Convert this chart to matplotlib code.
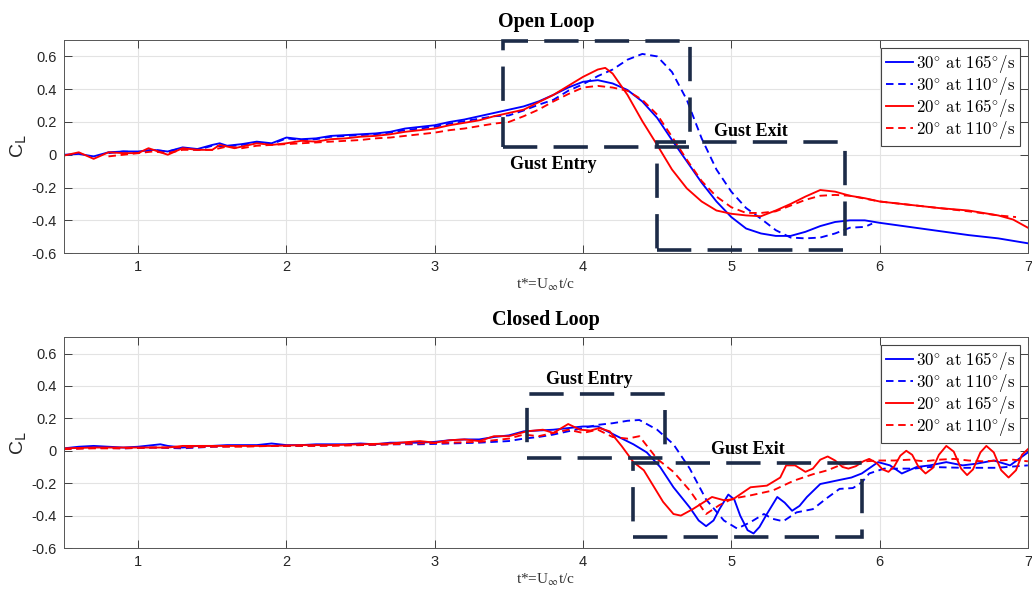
import numpy as np
import matplotlib
matplotlib.use('Agg')
import matplotlib.pyplot as plt
from matplotlib.patches import Rectangle
from matplotlib.font_manager import FontProperties

# lift coefficient vs convective time, open loop
ol_t_b165 = [0.5, 0.6, 0.7, 0.8, 0.9, 1.0, 1.1, 1.2, 1.3, 1.4, 1.5, 1.55, 1.6, 1.7, 1.8, 1.9, 2.0,
             2.1, 2.2, 2.3, 2.4, 2.5, 2.6, 2.7, 2.8, 2.9, 3.0, 3.1, 3.2, 3.3, 3.4, 3.5, 3.6, 3.7,
             3.8, 3.9, 4.0, 4.1, 4.2, 4.3, 4.4, 4.5, 4.6, 4.7, 4.8, 4.9, 5.0, 5.1, 5.2, 5.3, 5.4,
             5.5, 5.6, 5.7, 5.8, 5.9, 6.0, 6.2, 6.4, 6.6, 6.8, 7.0]
ol_cl_b165 = [0.0, 0.005, -0.01, 0.015, 0.02, 0.02, 0.03, 0.02, 0.045, 0.035, 0.06, 0.07, 0.055, 0.065,
              0.08, 0.07, 0.105, 0.095, 0.10, 0.115, 0.12, 0.125, 0.13, 0.14, 0.16, 0.17, 0.18, 0.20,
              0.215, 0.235, 0.255, 0.275, 0.295, 0.325, 0.365, 0.41, 0.445, 0.455, 0.435, 0.395,
              0.325, 0.225, 0.09, -0.04, -0.17, -0.285, -0.38, -0.45, -0.48, -0.495, -0.495, -0.47,
              -0.435, -0.41, -0.40, -0.40, -0.415, -0.44, -0.465, -0.49, -0.51, -0.54]

ol_t_b110 = [0.8, 0.9, 1.0, 1.1, 1.2, 1.3, 1.4, 1.5, 1.6, 1.7, 1.8, 1.9, 2.0, 2.1, 2.2, 2.3, 2.4,
             2.5, 2.6, 2.7, 2.8, 2.9, 3.0, 3.1, 3.2, 3.3, 3.4, 3.5, 3.6, 3.7, 3.8, 3.9, 4.0, 4.1,
             4.2, 4.3, 4.4, 4.5, 4.6, 4.7, 4.8, 4.9, 5.0, 5.1, 5.2, 5.3, 5.4, 5.5, 5.6, 5.7, 5.8,
             5.9, 5.95]
ol_cl_b110 = [0.01, 0.02, 0.015, 0.03, 0.02, 0.04, 0.03, 0.055, 0.05, 0.06, 0.075, 0.065, 0.10, 0.09,
              0.095, 0.11, 0.115, 0.12, 0.125, 0.135, 0.15, 0.16, 0.17, 0.19, 0.205, 0.22, 0.235,
              0.24, 0.27, 0.305, 0.335, 0.39, 0.43, 0.48, 0.52, 0.58, 0.615, 0.60, 0.505, 0.335,
              0.10, -0.09, -0.225, -0.325, -0.39, -0.46, -0.505, -0.51, -0.505, -0.48, -0.445,
              -0.44, -0.42]

ol_t_r165 = [0.5, 0.6, 0.7, 0.8, 0.9, 1.0, 1.07, 1.2, 1.3, 1.4, 1.5, 1.55, 1.65, 1.8, 1.9, 2.0,
             2.1, 2.2, 2.3, 2.4, 2.5, 2.6, 2.7, 2.8, 2.9, 3.0, 3.1, 3.2, 3.3, 3.4, 3.5, 3.6, 3.7,
             3.8, 3.9, 4.0, 4.1, 4.15, 4.2, 4.3, 4.4, 4.5, 4.6, 4.7, 4.8, 4.9, 5.0, 5.1, 5.2, 5.3,
             5.4, 5.5, 5.6, 5.7, 5.8, 5.9, 6.0, 6.2, 6.4, 6.6, 6.8, 6.9, 7.0]
ol_cl_r165 = [-0.005, 0.015, -0.025, 0.015, 0.01, 0.01, 0.04, 0.0, 0.04, 0.03, 0.03, 0.06, 0.04,
              0.07, 0.06, 0.07, 0.085, 0.08, 0.095, 0.10, 0.11, 0.115, 0.125, 0.14, 0.15, 0.16,
              0.18, 0.195, 0.21, 0.235, 0.255, 0.275, 0.32, 0.365, 0.42, 0.475, 0.52, 0.53, 0.495,
              0.365, 0.205, 0.06, -0.09, -0.205, -0.285, -0.34, -0.36, -0.37, -0.375, -0.34,
              -0.30, -0.255, -0.215, -0.225, -0.25, -0.265, -0.285, -0.305, -0.325, -0.34,
              -0.37, -0.395, -0.445]

ol_t_r110 = [0.8, 0.9, 1.0, 1.1, 1.2, 1.3, 1.4, 1.5, 1.6, 1.7, 1.8, 1.9, 2.0, 2.1, 2.2, 2.3, 2.4,
             2.5, 2.6, 2.7, 2.8, 2.9, 3.0, 3.1, 3.2, 3.3, 3.4, 3.5, 3.6, 3.7, 3.8, 3.9, 4.0, 4.1,
             4.2, 4.3, 4.4, 4.5, 4.6, 4.7, 4.8, 4.9, 5.0, 5.1, 5.2, 5.3, 5.4, 5.5, 5.6, 5.7, 5.8,
             6.0, 6.2, 6.4, 6.6, 6.8, 6.92]
ol_cl_r110 = [-0.01, 0.0, 0.01, 0.02, 0.01, 0.03, 0.03, 0.03, 0.05, 0.04, 0.055, 0.06, 0.065, 0.07,
              0.075, 0.08, 0.085, 0.09, 0.10, 0.105, 0.115, 0.125, 0.135, 0.15, 0.16, 0.175, 0.19,
              0.20, 0.235, 0.275, 0.325, 0.37, 0.41, 0.42, 0.41, 0.39, 0.335, 0.245, 0.11, -0.03,
              -0.16, -0.255, -0.32, -0.355, -0.355, -0.345, -0.31, -0.275, -0.25, -0.245, -0.25,
              -0.285, -0.305, -0.325, -0.345, -0.37, -0.38]

# closed loop
cl_t_b165 = [0.5, 0.6, 0.7, 0.8, 0.9, 1.0, 1.1, 1.15, 1.2, 1.3, 1.4, 1.5, 1.6, 1.7, 1.8, 1.9, 2.0,
             2.1, 2.2, 2.3, 2.4, 2.5, 2.6, 2.7, 2.8, 2.9, 3.0, 3.1, 3.2, 3.3, 3.4, 3.5, 3.6, 3.7,
             3.8, 3.9, 4.0, 4.1, 4.23, 4.34, 4.43, 4.52, 4.61, 4.72, 4.78, 4.83, 4.88, 4.92, 4.98,
             5.02, 5.06, 5.11, 5.15, 5.19, 5.24, 5.31, 5.36, 5.41, 5.46, 5.51, 5.6, 5.73, 5.81,
             5.88, 5.99, 6.07, 6.15, 6.25, 6.34, 6.45, 6.56, 6.65, 6.77, 6.88, 7.0]
cl_cl_b165 = [0.015, 0.025, 0.03, 0.025, 0.02, 0.025, 0.035, 0.04, 0.03, 0.02, 0.03, 0.03, 0.035,
              0.035, 0.035, 0.045, 0.035, 0.035, 0.04, 0.04, 0.04, 0.045, 0.04, 0.05, 0.05, 0.05,
              0.055, 0.065, 0.07, 0.07, 0.085, 0.095, 0.12, 0.125, 0.13, 0.14, 0.15, 0.15, 0.09,
              0.04, -0.01, -0.1, -0.225, -0.35, -0.43, -0.465, -0.43, -0.36, -0.27, -0.3, -0.40,
              -0.49, -0.51, -0.47, -0.39, -0.285, -0.32, -0.37, -0.34, -0.285, -0.205, -0.18,
              -0.165, -0.14, -0.07, -0.09, -0.14, -0.10, -0.09, -0.07, -0.09, -0.08, -0.06, -0.09,
              -0.01]

cl_t_b110 = [0.5, 0.7, 0.9, 1.1, 1.3, 1.5, 1.7, 1.9, 2.1, 2.3, 2.5, 2.7, 2.9, 3.1, 3.3, 3.5, 3.6,
             3.7, 3.8, 3.9, 4.0, 4.1, 4.2, 4.3, 4.38, 4.5, 4.61, 4.72, 4.83, 4.95, 5.04, 5.13,
             5.22, 5.28, 5.35, 5.44, 5.55, 5.64, 5.73, 5.82, 5.88, 5.93, 6.03, 6.23, 6.34, 6.56,
             6.79, 7.0]
cl_cl_b110 = [0.01, 0.02, 0.015, 0.02, 0.015, 0.025, 0.03, 0.03, 0.03, 0.035, 0.035, 0.04, 0.04,
              0.045, 0.05, 0.06, 0.075, 0.085, 0.10, 0.12, 0.14, 0.16, 0.17, 0.185, 0.19, 0.13,
              0.04, -0.11, -0.30, -0.43, -0.48, -0.44, -0.39, -0.42, -0.435, -0.38, -0.36, -0.295,
              -0.235, -0.23, -0.195, -0.14, -0.11, -0.11, -0.10, -0.105, -0.105, -0.09]

cl_t_r165 = [0.5, 0.7, 0.9, 1.0, 1.2, 1.3, 1.5, 1.7, 1.9, 2.1, 2.3, 2.5, 2.7, 2.9, 3.0, 3.1, 3.2,
             3.3, 3.4, 3.5, 3.62, 3.73, 3.8, 3.9, 3.98, 4.05, 4.11, 4.18, 4.26, 4.34, 4.41, 4.47,
             4.54, 4.61, 4.66, 4.74, 4.87, 4.95, 5.01, 5.13, 5.24, 5.33, 5.37, 5.43, 5.5, 5.55,
             5.6, 5.65, 5.7, 5.75, 5.79, 5.84, 5.89, 5.93, 5.98, 6.02, 6.06, 6.1, 6.14, 6.18,
             6.22, 6.26, 6.31, 6.36, 6.4, 6.45, 6.5, 6.55, 6.59, 6.63, 6.68, 6.72, 6.77, 6.82,
             6.87, 6.92, 6.96, 7.0]
cl_cl_r165 = [0.015, 0.02, 0.02, 0.02, 0.02, 0.03, 0.03, 0.03, 0.03, 0.035, 0.035, 0.04, 0.045,
              0.06, 0.05, 0.065, 0.07, 0.06, 0.09, 0.09, 0.12, 0.13, 0.11, 0.165, 0.13, 0.125,
              0.14, 0.12, 0.03, -0.07, -0.12, -0.21, -0.315, -0.39, -0.40, -0.36, -0.285, -0.305,
              -0.30, -0.225, -0.215, -0.165, -0.09, -0.09, -0.13, -0.11, -0.055, -0.035, -0.06,
              -0.10, -0.11, -0.095, -0.065, -0.05, -0.075, -0.115, -0.13, -0.095, -0.03, 0.0,
              -0.025, -0.095, -0.14, -0.105, -0.025, 0.03, -0.005, -0.11, -0.15, -0.115, -0.01,
              0.03, -0.01, -0.12, -0.165, -0.12, -0.025, 0.01]

cl_t_r110 = [0.5, 0.7, 0.9, 1.1, 1.3, 1.5, 1.7, 1.9, 2.1, 2.3, 2.5, 2.7, 2.9, 3.1, 3.3, 3.5, 3.6,
             3.7, 3.8, 3.9, 4.0, 4.1, 4.2, 4.3, 4.38, 4.5, 4.61, 4.72, 4.83, 4.92, 5.01, 5.13,
             5.28, 5.42, 5.55, 5.65, 5.73, 5.8, 5.9, 6.0, 6.1, 6.2, 6.3, 6.4, 6.5, 6.6, 6.7, 6.8,
             6.9, 7.0]
cl_cl_r110 = [0.01, 0.015, 0.015, 0.02, 0.02, 0.025, 0.025, 0.03, 0.03, 0.03, 0.035, 0.04, 0.045,
              0.05, 0.055, 0.075, 0.10, 0.09, 0.11, 0.13, 0.11, 0.13, 0.085, 0.075, 0.09, -0.05,
              -0.13, -0.245, -0.39, -0.335, -0.295, -0.275, -0.245, -0.185, -0.145, -0.12, -0.09,
              -0.075, -0.065, -0.06, -0.06, -0.055, -0.065, -0.055, -0.05, -0.06, -0.065, -0.06,
              -0.055, -0.065]

legend_labels = [r'$\mathrm{30^{\circ}\ at\ 165^{\circ}/s}$', r'$\mathrm{30^{\circ}\ at\ 110^{\circ}/s}$',
                 r'$\mathrm{20^{\circ}\ at\ 165^{\circ}/s}$', r'$\mathrm{20^{\circ}\ at\ 110^{\circ}/s}$']

# gust boxes: (t0, cl0, t1, cl1), label text position
ol_entry_box = (3.46, 0.05, 4.72, 0.695)
ol_exit_box = (4.50, -0.58, 5.77, 0.075)
cl_entry_box = (3.62, -0.045, 4.55, 0.35)
cl_exit_box = (4.34, -0.53, 5.88, -0.075)
ol_entry_lbl = (3.80, -0.06)
ol_exit_lbl = (5.13, 0.14)
cl_entry_lbl = (4.04, 0.44)
cl_exit_lbl = (5.11, 0.01)

xticks = [1, 2, 3, 4, 5, 6, 7]
yticks = [-0.6, -0.4, -0.2, 0, 0.2, 0.4, 0.6]
ytick_labels = ['-0.6', '-0.4', '-0.2', '0', '0.2', '0.4', '0.6']

BLUE = '#0000ff'
RED = '#ff0000'
NAVY = '#1c2b48'
AXC = '#262626'

fig = plt.figure(figsize=(10.32, 5.97), dpi=100)
ax1 = fig.add_axes([0.062, 0.576, 0.934, 0.357])
ax2 = fig.add_axes([0.062, 0.082, 0.934, 0.353])

dash = (0, (4, 2.5))


def draw_panel(ax, series, boxes, labels, title):
    for (t, c, col, ls) in series:
        ax.plot(t, c, color=col, lw=1.35, linestyle=ls)
    for (t0, c0, t1, c1) in boxes:
        ax.add_patch(Rectangle((t0, c0), t1 - t0, c1 - c0, fill=False, edgecolor=NAVY,
                               lw=2.6, linestyle=(0, (9.5, 4.5)), zorder=5, clip_on=False))
    for (txt, (x, y)) in labels:
        ax.text(x, y, txt, ha='center', va='center', fontsize=13, fontweight='bold',
                family='Liberation Serif', zorder=6)

    ax.set_xlim(0.5, 7)
    ax.set_ylim(-0.6, 0.7)
    ax.set_xticks(xticks)
    ax.set_xticklabels([str(v) for v in xticks])
    ax.set_yticks(yticks)
    ax.set_yticklabels(ytick_labels)
    ax.grid(True, color='#e3e3e3', lw=0.8)
    ax.set_axisbelow(True)
    ax.tick_params(direction='in', length=5.5, width=0.6, colors=AXC, labelsize=10.5,
                   top=True, right=True, pad=5)
    for lbl in ax.get_xticklabels() + ax.get_yticklabels():
        lbl.set_family('Liberation Sans')
        lbl.set_color(AXC)
    for sp in ax.spines.values():
        sp.set_color('#555555')
        sp.set_linewidth(0.7)

    ax.set_ylabel(r'C$_{\mathrm{L}}$', fontsize=14, family='Liberation Sans', color=AXC,
                  math_fontfamily='dejavusans', labelpad=2)
    ax.set_xlabel(r't*=U$_{\infty}$t/c', fontsize=11, family='Liberation Serif', color='#333333',
                  math_fontfamily='stix', labelpad=2)
    ax.set_title(title, fontsize=14.5, fontweight='bold', family='Liberation Serif', pad=9)

    leg = ax.legend(legend_labels, loc='upper right', handlelength=1.6,
                    handletextpad=0.15, labelspacing=0.0, borderpad=0.3, borderaxespad=0.45,
                    fancybox=False, framealpha=1, edgecolor='#444444',
                    prop=FontProperties(size=12.2, math_fontfamily='cm'))
    leg.get_frame().set_linewidth(0.8)
    leg.set_zorder(10)


draw_panel(ax1,
           [(ol_t_b165, ol_cl_b165, BLUE, '-'), (ol_t_b110, ol_cl_b110, BLUE, dash),
            (ol_t_r165, ol_cl_r165, RED, '-'), (ol_t_r110, ol_cl_r110, RED, dash)],
           [ol_entry_box, ol_exit_box],
           [('Gust Entry', ol_entry_lbl), ('Gust Exit', ol_exit_lbl)],
           'Open Loop')
draw_panel(ax2,
           [(cl_t_b165, cl_cl_b165, BLUE, '-'), (cl_t_b110, cl_cl_b110, BLUE, dash),
            (cl_t_r165, cl_cl_r165, RED, '-'), (cl_t_r110, cl_cl_r110, RED, dash)],
           [cl_entry_box, cl_exit_box],
           [('Gust Entry', cl_entry_lbl), ('Gust Exit', cl_exit_lbl)],
           'Closed Loop')

fig.savefig('out.png', dpi=100)
